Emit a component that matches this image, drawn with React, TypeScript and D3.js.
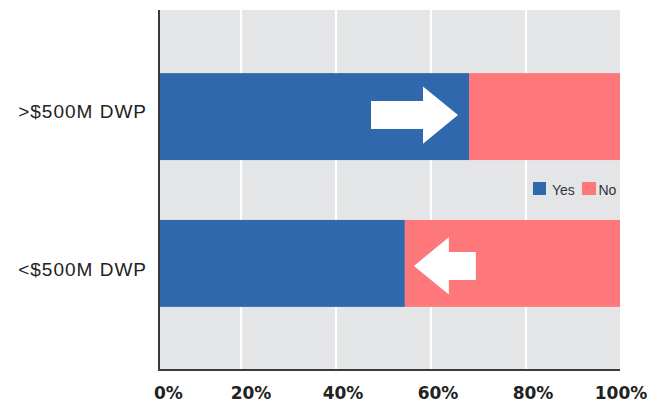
import React from "react";
import * as d3 from "d3";

// Share of respondents answering Yes / No, by DWP size band
const categories = [">$500M DWP", "<$500M DWP"];
const yesValues = [68, 54.5];
const noValues = [32, 45.5];
const tickValues = [0, 20, 40, 60, 80, 100];
const tickLabels = ["0%", "20%", "40%", "60%", "80%", "100%"];
const seriesNames = ["Yes", "No"];
// Direction of the change arrow drawn on each bar
const arrowDirections = ["right", "left"];

const W = 661;
const H = 403;
const plot = { left: 159, right: 620, top: 10, bottom: 370 };

const BLUE = "#2F68AC";
const PINK = "#FE777A";
const GRAY = "#E4E5E7";
const AXIS = "#3A3A3A";

export default function App() {
  const x = d3.scaleLinear().domain([0, 100]).range([146, 621]);
  const y = d3
    .scaleBand<string>()
    .domain(categories)
    .range([plot.top, plot.bottom])
    .paddingInner(0.408)
    .paddingOuter(0.43)
    .align(0.5);
  const yLabel = d3
    .scalePoint<string>()
    .domain(categories)
    .range([plot.top, plot.bottom])
    .padding(0.64);

  const colors = [BLUE, PINK];

  const arrowPath = (i: number) => {
    const cy = (y(categories[i]) ?? 0) + y.bandwidth() / 2;
    const dir = arrowDirections[i];
    const end = x(yesValues[i]);
    const headLen = 35;
    const headHalf = 28.7;
    const shaftHalf = 14;
    if (dir === "right") {
      const tip = end - 11;
      const len = 87;
      const tail = tip - len;
      const base = tip - headLen;
      const cyR = cy - 1.5;
      return d3.line()([
        [tail, cyR - shaftHalf],
        [base, cyR - shaftHalf],
        [base, cyR - headHalf],
        [tip, cyR],
        [base, cyR + headHalf],
        [base, cyR + shaftHalf],
        [tail, cyR + shaftHalf],
      ]) + "Z";
    }
    const tip = end + 9;
    const len = 62;
    const tail = tip + len;
    const base = tip + headLen;
    const cyL = cy + 2.5;
    return d3.line()([
      [tail, cyL - shaftHalf],
      [base, cyL - shaftHalf],
      [base, cyL - headHalf],
      [tip, cyL],
      [base, cyL + headHalf],
      [base, cyL + shaftHalf],
      [tail, cyL + shaftHalf],
    ]) + "Z";
  };

  const stacks = categories.map((c, i) => {
    const vals = [yesValues[i], noValues[i]];
    let acc = 0;
    return vals.map((v, k) => {
      const s = { x0: acc, x1: acc + v, color: colors[k] };
      acc += v;
      return s;
    });
  });

  return (
    <svg
      width={W}
      height={H}
      style={{ position: "absolute", left: 0, top: 0, background: "#fff" }}
    >
      <defs>
        <clipPath id="plotClip">
          <rect
            x={plot.left}
            y={plot.top}
            width={plot.right - plot.left}
            height={plot.bottom - plot.top}
          />
        </clipPath>
      </defs>

      <rect
        x={plot.left}
        y={plot.top}
        width={plot.right - plot.left}
        height={plot.bottom - plot.top}
        fill={GRAY}
      />

      {tickValues
        .filter((t) => t > 0 && t < 100)
        .map((t) => (
          <line
            key={t}
            x1={x(t)}
            x2={x(t)}
            y1={plot.top}
            y2={plot.bottom}
            stroke="#fff"
            strokeWidth={2.2}
          />
        ))}

      <g clipPath="url(#plotClip)">
        {categories.map((c, i) =>
          stacks[i].map((s, k) => (
            <rect
              key={c + k}
              x={x(s.x0)}
              y={y(c)}
              width={x(s.x1) - x(s.x0)}
              height={y.bandwidth()}
              fill={s.color}
            />
          ))
        )}
        {categories.map((c, i) => (
          <path key={"arrow" + c} d={arrowPath(i)} fill="#fff" />
        ))}
      </g>

      <line
        x1={plot.left}
        x2={plot.left}
        y1={plot.top}
        y2={plot.bottom + 1}
        stroke={AXIS}
        strokeWidth={2}
      />
      <line
        x1={plot.left}
        x2={plot.right}
        y1={plot.bottom}
        y2={plot.bottom}
        stroke={AXIS}
        strokeWidth={2}
      />

      {categories.map((c) => (
        <text
          key={"lab" + c}
          x={147}
          y={(yLabel(c) ?? 0) + 7}
          textAnchor="end"
          fontFamily="'Liberation Sans', Arial, sans-serif"
          fontSize={19}
          letterSpacing={1}
          fill="#222"
        >
          {c}
        </text>
      ))}

      {tickValues.map((t, i) => {
        const first = i === 0;
        const last = i === tickValues.length - 1;
        const tx = first ? x(t) + 8 : last ? x(t) : x(t) + (i === 1 ? 10 : 7);
        return (
          <text
            key={"tick" + t}
            x={tx}
            y={399}
            textAnchor={first ? "start" : "middle"}
            fontFamily="'DejaVu Sans', sans-serif"
            fontWeight="bold"
            fontSize={17}
            fill="#222"
          >
            {tickLabels[i]}
          </text>
        );
      })}

      <g fontFamily="'Liberation Sans', Arial, sans-serif" fontSize={14} fill="#333">
        <rect x={533} y={182} width={13} height={13} fill={BLUE} />
        <text x={552} y={194.5}>{seriesNames[0]}</text>
        <rect x={582} y={182} width={14} height={13} fill={PINK} />
        <text x={598.5} y={194.5}>{seriesNames[1]}</text>
      </g>
    </svg>
  );
}
